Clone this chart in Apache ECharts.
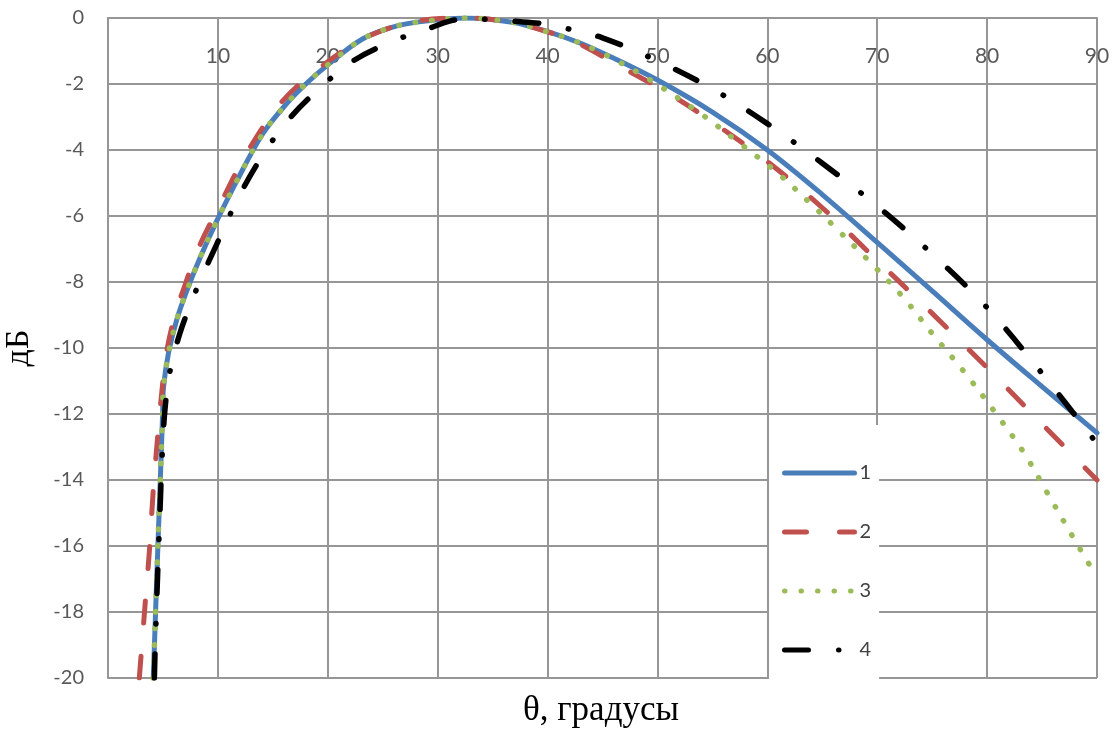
<!DOCTYPE html>
<html>
<head>
<meta charset="utf-8">
<script src="https://cdn.jsdelivr.net/npm/echarts@6/dist/echarts.min.js"></script>
<style>
html,body{margin:0;padding:0;background:#fff;}
#chart{width:1118px;height:729px;}
</style>
</head>
<body>
<div id="chart"></div>
<script>
// Angle (degrees) and level (dB) for each curve
const seriesNames = ['1', '2', '3', '4'];

const theta1 = [4.12, 4.33, 4.54, 4.76, 4.97, 5.05, 5.5, 6.25, 7.2, 8.4, 9.9, 11.7, 14.1, 16.3, 18.1, 20.0, 23.2, 26.3, 29.3, 32.5, 36.8, 39.8, 42.9, 45.9, 50.0, 55.0, 60.0, 65.0, 70.0, 75.0, 80.0, 85.0, 90.0];
const db1    = [-20, -18, -16, -14, -12, -11.2, -10.16, -9.15, -8.24, -7.25, -6.15, -4.95, -3.5, -2.58, -1.97, -1.42, -0.63, -0.24, -0.08, 0, -0.13, -0.39, -0.75, -1.2, -1.88, -2.85, -4.0, -5.35, -6.8, -8.27, -9.75, -11.17, -12.57];

const theta2 = [2.85, 3.37, 3.8, 4.12, 4.57, 5.0, 5.4, 6.1, 7.0, 8.2, 10.2, 12.7, 15.8, 19.0, 23.6, 28.4, 32.5, 36.8, 40.0, 42.2, 47.5, 51.1, 55.0, 60.0, 65.0, 70.0, 75.0, 80.0, 85.0, 90.0];
const db2    = [-20, -17.8, -16.0, -14.3, -12.5, -11.0, -10.0, -9.0, -8.1, -7.0, -5.65, -4.05, -2.55, -1.58, -0.57, -0.08, 0, -0.13, -0.42, -0.67, -1.63, -2.3, -3.15, -4.35, -5.75, -7.35, -8.95, -10.6, -12.3, -14.0];

const theta3 = [4.12, 4.33, 4.54, 4.76, 4.97, 5.05, 5.5, 6.25, 7.2, 8.4, 9.9, 11.7, 14.1, 16.3, 18.1, 20.0, 23.2, 26.3, 29.3, 32.5, 36.8, 39.8, 42.5, 45.3, 49.1, 53.9, 57.3, 60.8, 64.0, 66.1, 69.3, 72.3, 75.1, 78.0, 80.7, 83.3, 85.5, 87.8, 90.0];
const db3    = [-20, -18, -16, -14, -12, -11.2, -10.16, -9.15, -8.24, -7.25, -6.15, -4.95, -3.5, -2.58, -1.97, -1.42, -0.63, -0.24, -0.08, 0, -0.13, -0.4, -0.7, -1.12, -1.83, -2.89, -3.75, -4.66, -5.64, -6.32, -7.38, -8.44, -9.6, -10.76, -11.94, -13.15, -14.4, -15.72, -16.95];

const theta4 = [4.22, 4.3, 4.45, 4.6, 4.76, 4.92, 5.2, 5.7, 6.5, 7.3, 8.4, 9.9, 11.85, 14.0, 16.4, 19.1, 22.3, 25.8, 29.4, 31.9, 34.4, 37.0, 39.7, 42.0, 45.0, 50.0, 55.0, 60.0, 65.0, 70.0, 75.0, 80.0, 85.0, 90.0];
const db4    = [-20, -19, -17.5, -16.1, -14.7, -13.3, -11.8, -10.6, -9.6, -8.85, -7.95, -6.85, -5.45, -4.2, -3.09, -2.18, -1.3, -0.72, -0.29, -0.05, -0.04, -0.1, -0.18, -0.34, -0.6, -1.3, -2.15, -3.2, -4.4, -5.7, -7.15, -8.78, -10.77, -12.9];

const xTicks = [0, 10, 20, 30, 40, 50, 60, 70, 80, 90];
const yTicks = [-20, -18, -16, -14, -12, -10, -8, -6, -4, -2, 0];

const xName = 'θ, градусы';
const yName = 'дБ';

function pairs(xs, ys) { return xs.map((x, i) => [x, ys[i]]); }

const styles = [
  { color: '#4A7EBB', width: 5, type: 'solid' },
  { color: '#C0504D', width: 5, type: [22, 33] },
  { color: '#9BBB59', width: 5.5, type: [0.5, 16] },
  { color: '#000000', width: 5.5, type: [24, 30, 0.5, 30] }
];
const datas = [pairs(theta1, db1), pairs(theta2, db2), pairs(theta3, db3), pairs(theta4, db4)];

const gridColor = '#969696';
const labelFont = 'Lato, "Liberation Sans", sans-serif';
const serifFont = '"Liberation Serif", "DejaVu Serif", serif';

const chart = echarts.init(document.getElementById('chart'), null, { renderer: 'canvas' });
chart.setOption({
  backgroundColor: '#ffffff',
  animation: false,
  grid: { left: 108, right: 21, top: 18, bottom: 51, containLabel: false, outerBoundsMode: 'none' },
  xAxis: {
    type: 'value',
    position: 'top',
    min: xTicks[0], max: xTicks[xTicks.length - 1], interval: 10,
    axisLine: { show: true, onZero: false, lineStyle: { color: gridColor, width: 2 } },
    axisTick: { show: false },
    axisLabel: {
      inside: true, margin: 28,
      color: '#595959', fontSize: 21, fontFamily: labelFont,
      formatter: v => (v === 0 ? '' : String(v))
    },
    splitLine: { show: true, lineStyle: { color: gridColor, width: 2 } }
  },
  yAxis: {
    type: 'value',
    min: yTicks[0], max: yTicks[yTicks.length - 1], interval: 2,
    name: yName, nameLocation: 'middle', nameGap: 72, nameRotate: 90,
    nameTextStyle: { fontFamily: serifFont, fontSize: 34, color: '#000' },
    axisLine: { show: true, onZero: false, lineStyle: { color: gridColor, width: 2 } },
    axisTick: { show: false },
    axisLabel: { margin: 24, color: '#595959', fontSize: 20, fontFamily: labelFont },
    splitLine: { show: true, lineStyle: { color: gridColor, width: 2 } }
  },
  legend: {
    orient: 'vertical',
    left: 769, top: 425,
    padding: [38, 8, 20, 13],
    backgroundColor: '#ffffff',
    itemWidth: 70, itemHeight: 14, itemGap: 39,
    itemStyle: { opacity: 0, borderWidth: 0 },
    lineStyle: { width: 5, cap: 'round' },
    textStyle: { color: '#404040', fontSize: 20, fontFamily: labelFont },
    data: seriesNames
  },
  graphic: [{
    type: 'text', x: 601, y: 711,
    style: { text: xName, font: '35px ' + serifFont, fill: '#000', align: 'center', verticalAlign: 'middle' }
  }],
  series: seriesNames.map((n, i) => ({
    name: n,
    type: 'line',
    data: datas[i],
    smooth: 0.35,
    showSymbol: false,
    symbol: 'none',
    clip: true,
    lineStyle: { color: styles[i].color, width: styles[i].width, type: styles[i].type, cap: 'round', join: 'round' },
    itemStyle: { color: styles[i].color },
    z: 2 + i
  }))
});
</script>
</body>
</html>
